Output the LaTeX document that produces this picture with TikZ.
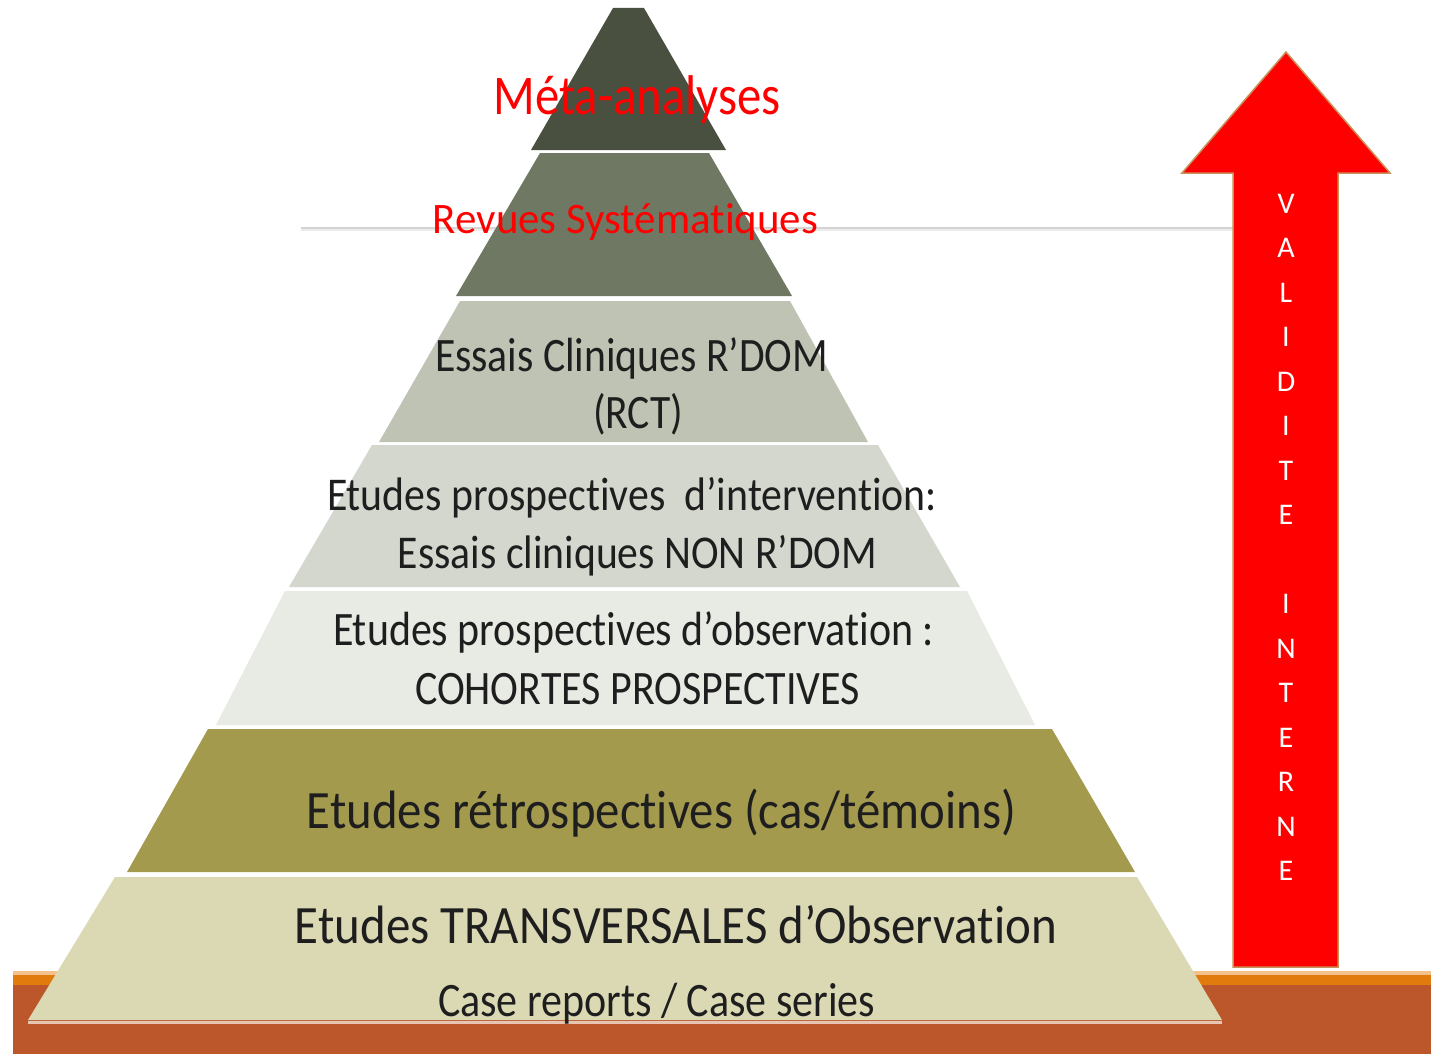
\documentclass[tikz,border=0pt]{standalone}
\usepackage{fontspec}
\setmainfont{Carlito}[Ligatures=CommonOff]
\usepackage{graphicx}
\definecolor{cA}{RGB}{74,80,64}
\definecolor{cB}{RGB}{111,120,98}
\definecolor{cC}{RGB}{190,195,180}
\definecolor{cD}{RGB}{211,215,205}
\definecolor{cE}{RGB}{232,234,228}
\definecolor{cF}{RGB}{163,154,78}
\definecolor{cG}{RGB}{219,216,180}
\definecolor{ground}{RGB}{188,87,43}
\definecolor{orlight}{RGB}{243,194,140}
\definecolor{orstrip}{RGB}{226,123,14}
\definecolor{hline}{RGB}{212,212,212}
\definecolor{hlineb}{RGB}{236,236,236}
\definecolor{arrowedge}{RGB}{200,145,90}
\definecolor{txtdark}{RGB}{30,30,30}
\definecolor{redtxt}{RGB}{255,0,0}
\definecolor{baseedge}{RGB}{232,196,178}
\newcommand\fitw[3]{\resizebox{#1pt}{\height}{\fontsize{#2}{#2}\selectfont #3}}
\begin{document}
\begin{tikzpicture}[x=1pt,y=-1pt,
  lbl/.style={anchor=base,inner sep=0pt,text=txtdark},
  redlbl/.style={anchor=base,inner sep=0pt,text=redtxt},
  vlet/.style={anchor=center,inner sep=0pt,text=white,font=\fontsize{31}{31}\selectfont}]
\useasboundingbox (0,0) rectangle (1431,1054);
\fill[white] (0,0) rectangle (1431,1054);
% thin horizontal line behind the pyramid
\coordinate (hl) at (301,227.5);
\coordinate (hr) at (1233,227.5);
\draw[line width=2pt,hline] (hl) -- (hr);
\draw[line width=2pt,hlineb] ([yshift=-2pt]hl) -- ([yshift=-2pt]hr);
% ground
\fill[ground] (13,971) rectangle (1431,1054);
\fill[orlight] (13,971) rectangle (1431,975);
\fill[orstrip] (13,975) rectangle (1431,985);
% pyramid levels
\fill[cG] (115,877) -- (1137,877) -- (1222,1020) -- (28,1020) -- cycle;
\draw[line width=3pt,baseedge] (28,1022) -- (1222,1022);
\fill[cF] (208,729) -- (1052,729) -- (1135,872) -- (127,872) -- cycle;
\fill[cE] (285,591) -- (967,591) -- (1035,725) -- (216,725) -- cycle;
\fill[cD] (372,445) -- (878,445) -- (960,587) -- (289,587) -- cycle;
\fill[cC] (460,301) -- (790,301) -- (868,442) -- (379,442) -- cycle;
\fill[cB] (540,153) -- (709,153) -- (792,296) -- (456,296) -- cycle;
\fill[cA] (613,8) -- (644,8) -- (726,150) -- (531,150) -- cycle;
% labels
\node[redlbl] (meta) at (637,114) {\fitw{287}{56}{Méta-analyses}};
\node[redlbl] (rev) at (625.5,233) {\fitw{385}{43.5}{Revues Systématiques}};
\node[lbl] (rct1) at (631.5,371) {\fitw{393}{48}{Essais Cliniques R’DOM}};
\node[lbl] (rct2) at (638,428) {\fitw{90}{48}{(RCT)}};
\node[lbl] (int1) at (632,510) {\fitw{610}{47}{Etudes prospectives\ \ d’intervention:}};
\node[lbl] (int2) at (637.5,568) {\fitw{479}{47}{Essais cliniques NON R’DOM}};
\node[lbl] (obs1) at (633.5,645) {\fitw{601}{48}{Etudes prospectives d’observation :}};
\node[lbl] (obs2) at (637.5,704) {\fitw{445}{48}{COHORTES PROSPECTIVES}};
\node[lbl] (retro) at (661.5,828) {\fitw{709}{54}{Etudes rétrospectives (cas/témoins)}};
\node[lbl] (trans) at (676,943) {\fitw{762}{54}{Etudes TRANSVERSALES d’Observation}};
\node[lbl] (case) at (656.5,1016) {\fitw{437}{48}{Case reports / Case series}};
% arrow
\filldraw[fill=red,draw=arrowedge,line width=1.5pt,line join=miter]
  (1233,967) -- (1338,967) -- (1338,173) -- (1390,173) -- (1286,52)
  -- (1182,173) -- (1233,173) -- cycle;
\foreach \ch [count=\i from 0] in {V,A,L,I,D,I,T,E,{},I,N,T,E,R,N,E}{
  \node[vlet] (v\i) at (1286,{207+44.5*\i}) {\resizebox{!}{21pt}{\ch\strut}};
}
\end{tikzpicture}
\end{document}
